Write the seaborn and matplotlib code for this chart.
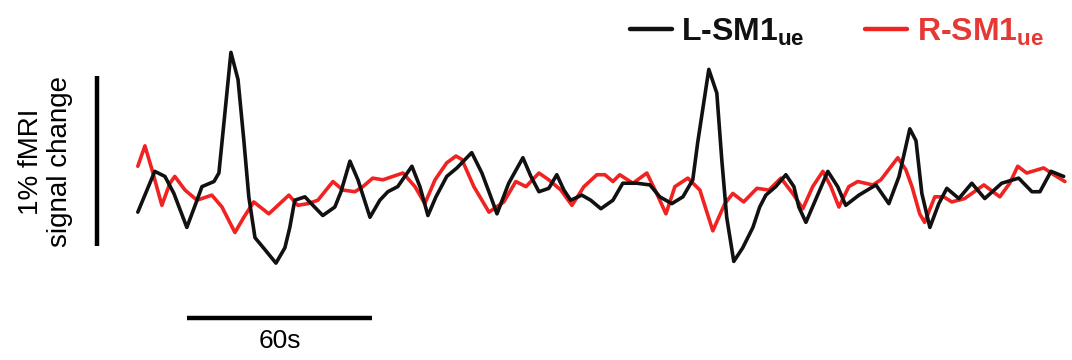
import numpy as np
import pandas as pd
import matplotlib
matplotlib.use("Agg")
import matplotlib.pyplot as plt
from matplotlib.lines import Line2D
import seaborn as sns

# time (s) and signal change (%)
left_time = [0.3, 5.8, 9.1, 12.0, 16.2, 19.5, 21.1, 25.0, 26.6, 28.2, 30.5, 32.8, 34.7, 36.3,
             38.3, 41.5, 45.1, 48.0, 49.6, 51.2, 54.5, 57.1, 60.3, 64.2, 66.2, 69.1, 71.7,
             75.6, 78.8, 81.4, 84.6, 86.9, 89.2, 91.8, 94.4, 97.0, 100.5, 103.8, 108.6,
             111.9, 114.8, 116.8, 120.6, 125.2, 127.8, 130.4, 133.6, 136.2, 138.5, 140.7,
             144.3, 147.2, 150.5, 154.4, 157.6, 162.2, 166.4, 169.6, 173.5, 177.1, 180.3,
             181.9, 185.5, 188.1, 189.7, 191.3, 193.6, 196.5, 199.8, 202.0, 204.0, 207.2,
             210.5, 213.1, 214.7, 217.0, 219.6, 224.1, 227.3, 229.9, 234.2, 239.7, 243.9,
             247.2, 250.7, 252.7, 254.6, 257.2, 260.1, 262.7, 266.6, 270.8, 275.0, 280.5,
             286.0, 290.3, 292.9, 296.5, 300.6]
left_signal = [-0.13, 0.11, 0.08, -0.02, -0.22, -0.06, 0.02, 0.05, 0.10, 0.39, 0.81, 0.65,
               0.29, -0.04, -0.28, -0.35, -0.43, -0.34, -0.22, -0.06, -0.04, -0.09, -0.15,
               -0.10, -0.01, 0.17, 0.06, -0.16, -0.06, -0.01, 0.02, 0.08, 0.14, 0.02, -0.15,
               -0.04, 0.08, 0.13, 0.22, 0.10, -0.04, -0.14, 0.04, 0.19, 0.08, -0.01, 0.01,
               0.09, 0.00, -0.06, -0.03, -0.06, -0.11, -0.06, 0.04, 0.04, 0.03, -0.04, -0.08,
               -0.04, 0.06, 0.28, 0.71, 0.57, 0.18, -0.16, -0.42, -0.34, -0.22, -0.10, -0.03,
               0.02, 0.09, 0.02, -0.10, -0.19, -0.08, 0.11, 0.02, -0.09, -0.03, 0.03, -0.08,
               0.08, 0.36, 0.29, -0.02, -0.22, -0.08, 0.01, -0.05, 0.04, -0.05, 0.04, 0.07,
               -0.01, -0.01, 0.11, 0.08]

right_time = [0.3, 2.6, 4.9, 8.1, 10.7, 12.3, 15.6, 19.5, 24.3, 27.6, 31.8, 34.7, 37.9, 42.8,
              49.3, 52.2, 55.5, 58.7, 63.6, 66.8, 70.7, 73.3, 76.5, 79.8, 83.0, 86.3, 90.2,
              93.4, 96.7, 100.5, 103.5, 105.4, 109.3, 114.2, 119.0, 122.9, 126.2, 130.4,
              133.6, 137.5, 141.1, 145.0, 149.2, 151.8, 154.4, 156.6, 160.9, 165.4, 168.6,
              171.6, 174.5, 178.7, 182.6, 186.8, 190.7, 193.3, 196.8, 201.1, 205.0, 208.9,
              212.7, 216.0, 219.2, 222.5, 225.1, 227.7, 230.9, 233.8, 238.7, 241.3, 246.8,
              249.4, 251.4, 253.9, 255.5, 258.8, 261.7, 264.3, 268.5, 274.7, 279.9, 283.1,
              285.7, 288.6, 294.1, 297.4, 301.0]
right_signal = [0.14, 0.26, 0.12, -0.09, 0.04, 0.08, 0.00, -0.06, -0.03, -0.10, -0.25, -0.16,
                -0.07, -0.14, -0.03, -0.09, -0.08, -0.06, 0.05, 0.00, -0.01, 0.02, 0.07, 0.06,
                0.08, 0.10, 0.02, -0.08, 0.06, 0.16, 0.20, 0.18, 0.02, -0.13, -0.07, 0.05,
                0.02, 0.10, 0.06, 0.00, -0.09, 0.02, 0.09, 0.09, 0.05, 0.09, 0.04, 0.10,
                -0.02, -0.14, 0.02, 0.07, 0.00, -0.24, -0.08, -0.02, -0.07, 0.01, 0.00, 0.07,
                -0.02, -0.11, 0.02, 0.11, 0.02, -0.10, 0.02, 0.05, 0.03, 0.06, 0.19, 0.12,
                0.02, -0.14, -0.19, -0.04, -0.04, -0.07, -0.05, 0.03, -0.04, 0.04, 0.14, 0.10,
                0.13, 0.09, 0.05]

regions = ["L-SM1ue", "R-SM1ue"]
BLACK = "#111111"
RED = "#f02222"

df = pd.concat([
    pd.DataFrame({"time": left_time, "signal": left_signal, "region": regions[0]}),
    pd.DataFrame({"time": right_time, "signal": right_signal, "region": regions[1]}),
])

sns.set_theme(style="white")
plt.rcParams["font.family"] = ["Liberation Sans", "DejaVu Sans"]
plt.rcParams["text.color"] = "black"
plt.rcParams["mathtext.fontset"] = "custom"
plt.rcParams["mathtext.bf"] = "Liberation Sans:bold"
plt.rcParams["mathtext.rm"] = "Liberation Sans"

fig = plt.figure(figsize=(10.72, 3.6), dpi=100)
ax = fig.add_axes([0, 0, 1, 1])

sns.lineplot(data=df, x="time", y="signal", hue="region", hue_order=[regions[1], regions[0]],
             palette={regions[0]: BLACK, regions[1]: RED}, estimator=None, sort=False,
             linewidth=2.6, legend=False, ax=ax)
for ln in ax.lines:
    ln.set_solid_joinstyle("round")
    ln.set_solid_capstyle("round")

ax.set_xlim(-44.4, 303.3)
ax.set_ylim(-1.0, 1.118)
ax.axis("off")

# scale bars: 1% signal change and 60 s
ax.plot([-13.0, -13.0], [-0.33, 0.67], color="black", lw=3.2, solid_capstyle="butt")
ax.plot([16.3, 76.3], [-0.753, -0.753], color="black", lw=3.2, solid_capstyle="butt")
ax.text(46.3, -0.815, "60s", ha="center", va="top", fontsize=19, color="black")
ax.text(-29.6, 0.165, "1% fMRI\nsignal change", rotation=90, ha="center", va="center",
        multialignment="center", fontsize=20, linespacing=1.15, color="black")

handles = [Line2D([], [], color=BLACK, lw=3.2), Line2D([], [], color=RED, lw=3.2)]
labels = [r"L-SM1$_\mathbf{ue}$", r"R-SM1$_\mathbf{ue}$"]
leg = fig.legend(handles, labels, loc="center left", bbox_to_anchor=(630 / 1072, 1 - 32 / 360),
                 ncol=2, frameon=False, handlelength=1.3, handletextpad=0.3,
                 columnspacing=1.9, borderpad=0, borderaxespad=0,
                 prop={"weight": "bold", "size": 23})
for txt, col in zip(leg.get_texts(), [BLACK, "#e53935"]):
    txt.set_color(col)

fig.savefig("out.png", dpi=100)
